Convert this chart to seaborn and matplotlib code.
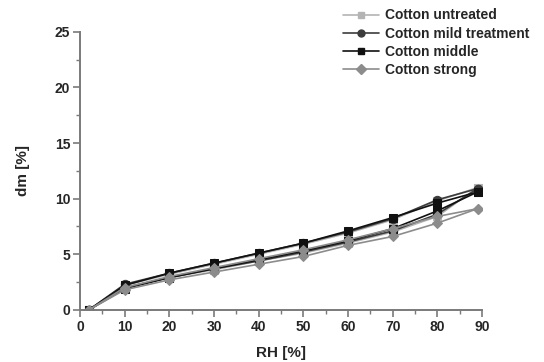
import matplotlib
matplotlib.use("Agg")
import matplotlib.pyplot as plt
import seaborn as sns
import pandas as pd
from matplotlib.lines import Line2D
from matplotlib.ticker import MultipleLocator

sns.set_style("white")
plt.rcParams['font.family'] = ['Liberation Sans', 'DejaVu Sans']
plt.rcParams['font.weight'] = 'bold'

RH = [2, 10, 20, 30, 40, 50, 60, 70, 80, 89]
series = ["Cotton untreated", "Cotton mild treatment", "Cotton middle", "Cotton strong"]
untreated_ads = [0, 2.0, 2.9, 3.6, 4.4, 5.1, 6.0, 7.0, 8.4, 11.0]
untreated_des = [0, 2.2, 3.2, 4.1, 5.0, 5.9, 6.9, 8.1, 9.8, 11.0]
mild_ads = [0, 2.0, 2.9, 3.7, 4.4, 5.2, 6.1, 7.1, 8.6, 10.9]
mild_des = [0, 2.3, 3.3, 4.2, 5.1, 6.0, 7.0, 8.2, 9.9, 10.9]
middle_ads = [0, 1.9, 2.9, 3.7, 4.5, 5.3, 6.2, 7.3, 8.9, 10.6]
middle_des = [0, 2.2, 3.3, 4.2, 5.1, 6.0, 7.1, 8.3, 9.6, 10.6]
strong_ads = [0, 1.8, 2.7, 3.4, 4.1, 4.8, 5.8, 6.6, 7.8, 9.1]
strong_des = [0, 2.0, 3.0, 3.8, 4.6, 5.4, 6.3, 7.3, 8.4, 9.1]

data = {
    "Cotton untreated": (untreated_ads, untreated_des),
    "Cotton mild treatment": (mild_ads, mild_des),
    "Cotton middle": (middle_ads, middle_des),
    "Cotton strong": (strong_ads, strong_des),
}
colors = {"Cotton untreated": "#b4b4b4", "Cotton mild treatment": "#3c3c3c",
          "Cotton middle": "#111111", "Cotton strong": "#8c8c8c"}
markers = {"Cotton untreated": "s", "Cotton mild treatment": "o",
           "Cotton middle": "s", "Cotton strong": "D"}
msize = {"Cotton untreated": 5.5, "Cotton mild treatment": 6,
         "Cotton middle": 5.5, "Cotton strong": 5.5}

fig = plt.figure(figsize=(5.44, 3.62), dpi=100)
ax = fig.add_axes([0.147, 0.144, 0.739, 0.768])

for name in series:
    ads, des = data[name]
    for branch in (ads, des):
        df = pd.DataFrame({"RH": RH, "dm": branch})
        sns.lineplot(data=df, x="RH", y="dm", ax=ax, color=colors[name],
                     marker=markers[name], markersize=msize[name],
                     markeredgecolor=colors[name], linewidth=1.2,
                     sort=False, estimator=None, legend=False)

ax.set_xlim(0, 90)
ax.set_ylim(0, 25)
ax.xaxis.set_major_locator(MultipleLocator(10))
ax.xaxis.set_minor_locator(MultipleLocator(5))
ax.yaxis.set_major_locator(MultipleLocator(5))
ax.yaxis.set_minor_locator(MultipleLocator(2.5))
for s in ["top", "right"]:
    ax.spines[s].set_visible(False)
for s in ["left", "bottom"]:
    ax.spines[s].set_color("#7a7a7a")
    ax.spines[s].set_linewidth(1.4)
ax.tick_params(which="major", direction="out", length=5, width=1.2,
               color="#7a7a7a", labelsize=10, bottom=True, left=True, pad=2)
ax.tick_params(which="minor", direction="out", length=3, width=1.0,
               color="#7a7a7a", bottom=True, left=True)
for lab in ax.get_xticklabels() + ax.get_yticklabels():
    lab.set_fontweight("bold")
ax.set_xlabel("RH [%]", fontsize=11, fontweight="bold", labelpad=9)
ax.set_ylabel("dm [%]", fontsize=11, fontweight="bold", labelpad=18)

handles = [Line2D([0], [0], color=colors[n], marker=markers[n], markersize=5,
                  linewidth=1.2) for n in series]
leg = fig.legend(handles, series, loc="upper left", bbox_to_anchor=(0.618, 0.996),
                 frameon=False, fontsize=10, handlelength=2.6, handletextpad=0.4,
                 labelspacing=0.3, borderaxespad=0.1)
for t in leg.get_texts():
    t.set_fontweight("bold")

fig.savefig("out.png", dpi=100)
